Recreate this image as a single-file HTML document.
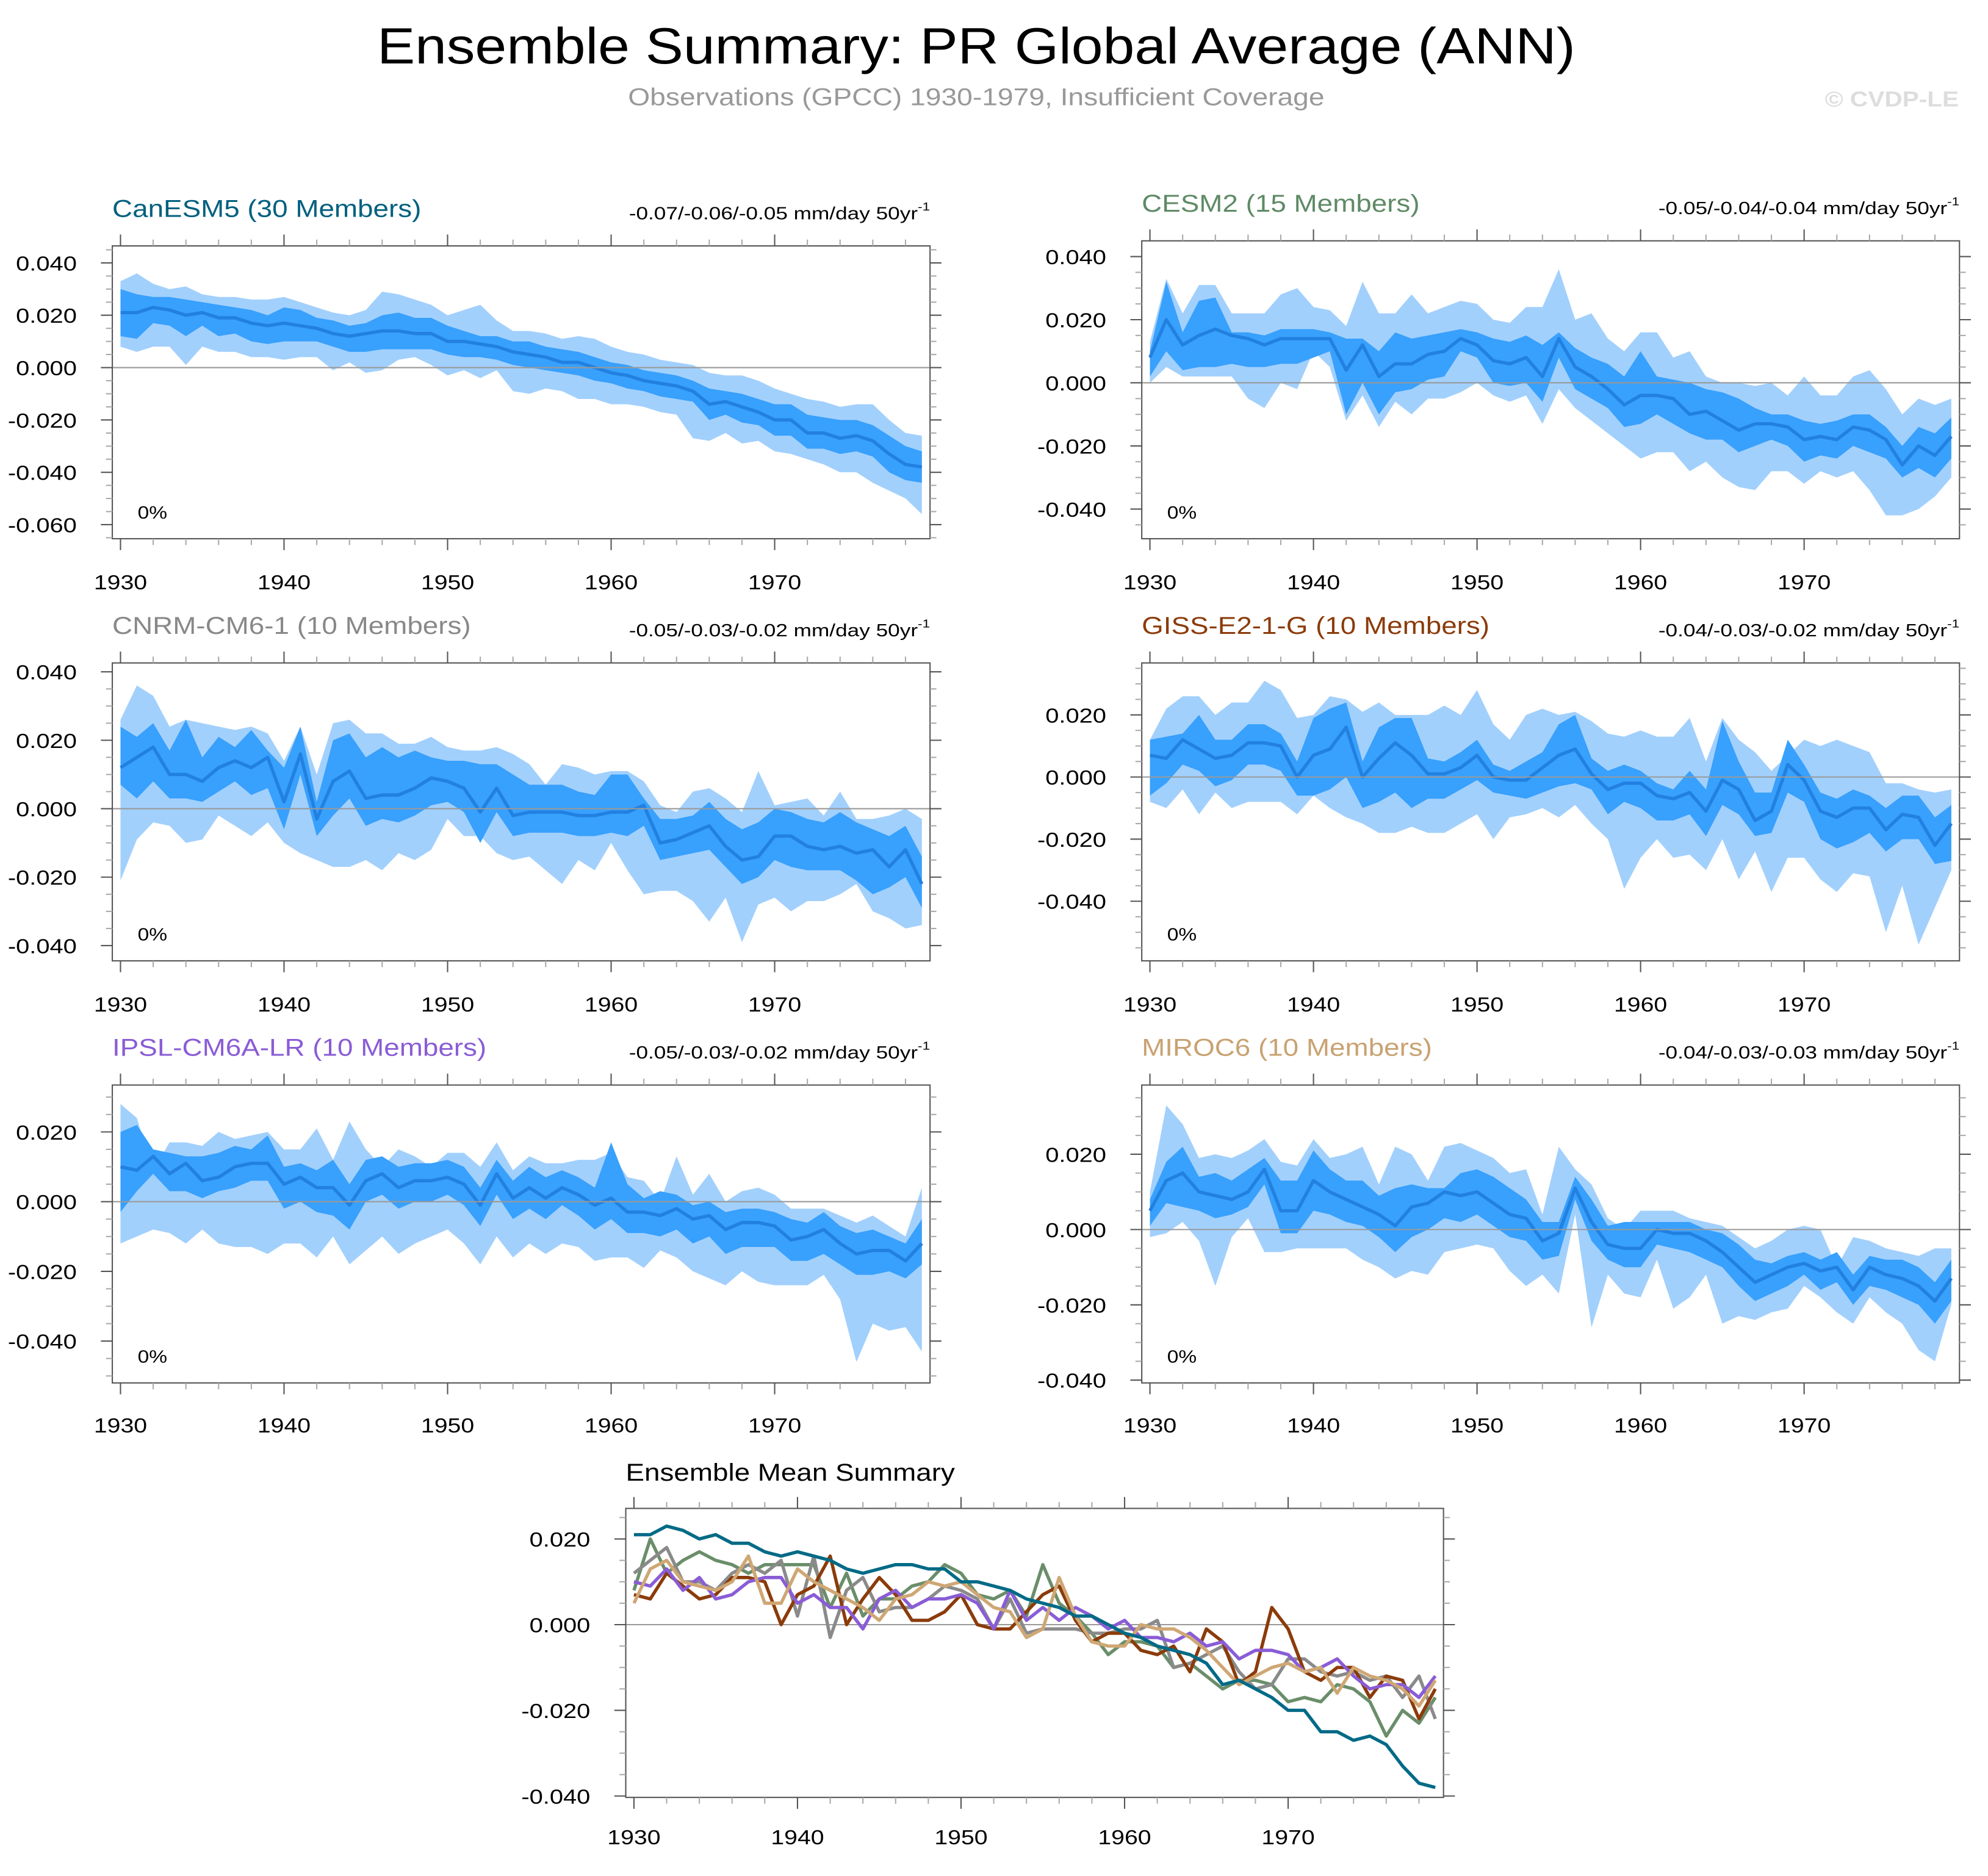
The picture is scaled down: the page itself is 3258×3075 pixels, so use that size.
<!DOCTYPE html>
<html><head><meta charset="utf-8">
<style>
html,body{margin:0;padding:0;background:#fff;}
svg{display:block;font-family:"Liberation Sans",sans-serif;}
</style></head>
<body>
<svg id="chart" width="3258" height="3075" viewBox="0 0 1568 1480" xmlns="http://www.w3.org/2000/svg">
<rect width="1568" height="1480" fill="#fff"/>
<text data-sx="1.12" x="770" y="50" font-size="40" text-anchor="middle" fill="#000">Ensemble Summary: PR Global Average (ANN)</text>
<text data-sx="1.17" x="770" y="83" font-size="19" text-anchor="middle" fill="#999">Observations (GPCC) 1930-1979, Insufficient Coverage</text>
<text data-sx="1.15" x="1545" y="84" font-size="17" font-weight="bold" text-anchor="end" fill="#ddd">© CVDP-LE</text>
</svg>
<script>
// values in thousandths (x0.001 mm/day)
const years=[];for(let y=1930;y<=1979;y++)years.push(y);
const xTickLabels=["1930","1940","1950","1960","1970"];

const canMean=[21,21,23,22,20,21,19,19,17,16,17,16,15,13,12,13,14,14,13,13,10,10,9,8,6,5,4,2,2,0,-2,-3,-5,-6,-7,-9,-14,-13,-15,-17,-20,-20,-25,-25,-27,-26,-28,-33,-37,-38];
const canP90=[30,28,27,27,26,25,24,23,22,20,23,22,19,18,16,17,20,21,19,19,16,14,12,12,10,10,8,7,6,4,2,1,-1,-2,-3,-5,-8,-9,-10,-12,-14,-14,-18,-19,-20,-20,-22,-26,-30,-32];
const canP10=[12,11,17,16,12,16,12,13,10,9,10,10,10,8,6,6,7,7,7,7,5,4,4,3,1,0,-1,-2,-3,-5,-6,-8,-9,-11,-12,-13,-20,-18,-21,-22,-26,-26,-31,-31,-33,-32,-34,-40,-43,-44];
const canMax=[33,36,32,30,31,28,27,27,26,26,27,25,23,21,20,22,29,28,26,24,20,22,24,18,14,14,13,11,12,11,8,6,5,3,2,1,-2,-3,-3,-5,-8,-10,-12,-13,-15,-14,-14,-20,-25,-26];
const canMin=[8,6,8,8,1,8,6,6,4,4,3,4,4,-1,2,-2,-1,3,4,1,-3,-1,-4,-1,-9,-10,-8,-9,-12,-12,-14,-14,-15,-17,-18,-27,-28,-25,-29,-28,-32,-33,-35,-37,-40,-40,-44,-47,-50,-56];

const cesMean=[8,20,12,15,17,15,14,12,14,14,14,14,4,12,2,6,6,9,10,14,12,7,6,8,2,14,5,2,-2,-7,-4,-4,-5,-10,-9,-12,-15,-13,-13,-14,-18,-17,-18,-14,-15,-18,-26,-20,-23,-17];
const cesP90=[10,32,16,26,27,16,16,15,17,17,17,16,14,14,10,16,14,15,16,17,16,14,13,15,12,16,11,8,6,2,10,2,1,0,-2,-3,-5,-8,-10,-10,-12,-13,-12,-10,-10,-14,-20,-14,-16,-11];
const cesP10=[2,10,4,5,5,6,5,5,6,6,8,10,-10,0,-10,-3,-2,1,2,10,8,0,-1,0,-6,8,-2,-5,-8,-14,-13,-10,-13,-16,-18,-18,-22,-20,-18,-20,-25,-23,-24,-20,-22,-24,-30,-27,-30,-24];
const cesMax=[13,33,22,31,31,22,22,22,28,30,24,23,18,32,22,22,28,22,24,26,25,20,19,24,24,36,20,22,14,10,16,16,8,10,2,0,0,-1,0,-4,2,-4,-4,2,4,-2,-10,-5,-7,-5];
const cesMin=[0,5,2,2,2,2,-5,-8,0,-2,10,5,-12,-4,-14,-6,-10,-5,-5,-3,0,-4,-6,-4,-13,-2,-8,-12,-16,-20,-24,-22,-22,-28,-25,-30,-33,-34,-28,-28,-32,-28,-30,-28,-34,-42,-42,-40,-36,-30];

const cnrMean=[12,15,18,10,10,8,12,14,12,15,2,16,-3,8,11,3,4,4,6,9,8,6,-1,6,-2,-1,-1,-1,-2,-2,-1,-1,1,-10,-9,-7,-5,-11,-15,-14,-8,-8,-11,-12,-11,-13,-12,-17,-12,-22];
const cnrP90=[24,21,25,17,26,15,21,18,23,17,12,24,2,20,22,15,18,15,17,15,14,14,13,13,10,7,7,7,5,4,10,10,3,-3,-3,-2,2,-3,-6,-4,0,-1,-3,-4,-1,-4,-6,-8,-5,-14];
const cnrP10=[7,3,8,3,3,2,5,8,4,6,-6,10,-8,-2,3,-5,-3,-4,-2,1,2,-1,-10,-1,-8,-7,-7,-7,-8,-8,-7,-8,-5,-15,-14,-13,-12,-17,-22,-20,-15,-17,-18,-18,-18,-21,-25,-23,-20,-29];
const cnrMax=[26,36,33,24,26,25,24,23,24,22,14,24,10,25,26,22,22,19,19,21,18,17,17,18,16,13,7,13,12,10,11,11,8,1,-1,5,6,3,-1,11,1,2,3,-2,5,-3,-3,-2,0,-3];
const cnrMin=[-21,-9,-4,-5,-10,-9,-2,-5,-8,-4,-10,-13,-15,-17,-17,-15,-18,-13,-15,-12,-3,-8,-8,-13,-15,-14,-18,-22,-15,-18,-10,-18,-25,-24,-24,-27,-33,-26,-39,-28,-26,-30,-27,-27,-25,-22,-30,-32,-35,-34];

const gisMean=[7,6,12,9,6,7,11,11,10,0,7,9,16,0,6,11,7,1,1,3,7,0,-1,-1,3,7,9,1,-4,-2,-2,-6,-7,-5,-11,-1,-4,-14,-11,4,-1,-11,-13,-10,-10,-17,-12,-13,-22,-15];
const gisP90=[12,13,14,20,12,12,17,17,14,5,19,22,24,5,16,19,19,6,5,8,12,4,2,5,8,17,20,6,2,4,2,-2,-4,2,-4,18,5,-5,-5,12,4,-5,-7,-4,-6,-10,-6,-6,-13,-9];
const gisP10=[-6,-2,4,2,-3,-1,4,4,2,-6,-6,-4,0,-10,-8,-5,-10,-7,-7,-4,-1,-5,-6,-7,-5,-3,-2,-4,-12,-8,-10,-14,-14,-12,-19,-9,-12,-19,-18,-5,-8,-20,-23,-21,-18,-24,-20,-20,-28,-27];
const gisMax=[12,22,26,26,20,24,24,31,28,19,20,26,25,21,24,20,20,20,23,20,28,17,12,20,22,20,21,18,14,13,15,13,13,19,5,19,12,8,2,7,12,10,12,10,8,-2,-2,-4,-5,-4];
const gisMin=[-8,-10,-4,-12,-5,-10,-8,-8,-8,-12,-6,-10,-13,-15,-18,-18,-16,-18,-18,-15,-12,-20,-13,-12,-10,-13,-9,-15,-20,-36,-26,-20,-26,-25,-30,-20,-33,-24,-37,-26,-26,-33,-37,-31,-32,-50,-35,-54,-42,-30];

const ipsMean=[10,9,13,8,11,6,7,10,11,11,5,7,4,4,-1,6,8,4,6,6,7,5,-1,8,1,4,1,4,2,-1,1,-3,-3,-4,-2,-5,-4,-8,-6,-6,-7,-11,-10,-8,-12,-15,-14,-14,-17,-12];
const ipsP90=[20,22,15,14,13,13,14,16,15,19,10,11,9,12,5,12,13,10,11,11,12,10,4,12,6,10,7,9,7,4,17,5,1,3,2,-1,0,-3,-2,-2,-3,-5,-6,-3,-7,-9,-8,-10,-12,-5];
const ipsP10=[-3,3,8,3,3,1,3,4,6,6,-2,0,-3,-4,-8,0,2,-2,0,0,2,-1,-7,2,-5,-2,-5,-1,-4,-8,-5,-9,-9,-10,-8,-12,-10,-15,-13,-13,-13,-17,-17,-15,-18,-21,-21,-20,-22,-18];
const ipsMax=[28,24,9,17,17,16,20,18,19,20,15,15,21,12,23,15,10,15,13,10,14,14,10,17,9,13,11,11,12,12,14,7,6,0,13,2,8,0,3,4,2,-2,-2,-2,-4,-6,-4,-7,-10,4];
const ipsMin=[-12,-10,-8,-9,-12,-8,-12,-13,-13,-15,-12,-12,-16,-10,-18,-14,-10,-15,-12,-10,-8,-12,-18,-10,-16,-12,-15,-12,-13,-17,-16,-16,-19,-14,-16,-20,-22,-24,-20,-23,-24,-24,-24,-21,-28,-46,-35,-37,-36,-43];

const mirMean=[5,13,15,10,9,8,10,16,5,5,13,10,8,6,4,1,6,7,10,9,10,7,4,3,-3,-1,11,2,-4,-5,-5,0,-1,-1,-3,-6,-10,-14,-12,-10,-9,-11,-10,-16,-10,-12,-13,-15,-19,-13];
const mirP90=[8,18,22,14,15,13,16,19,13,13,21,16,13,13,9,11,12,11,11,15,16,14,11,8,2,2,14,8,1,2,2,2,2,2,0,-1,-4,-8,-9,-7,-6,-8,-6,-12,-7,-8,-8,-10,-14,-8];
const mirP10=[1,7,6,5,3,4,6,12,-1,-1,5,4,2,1,-2,-6,-2,0,3,2,4,1,-2,-3,-8,-7,8,-3,-8,-10,-10,-4,-5,-6,-8,-10,-15,-19,-17,-15,-12,-16,-14,-20,-15,-16,-18,-20,-25,-19];
const mirMax=[10,33,28,19,20,19,21,24,18,17,24,19,20,22,12,22,20,13,22,23,21,19,15,16,4,22,16,12,3,0,5,5,5,3,2,1,-2,-5,-3,0,1,0,-10,-2,-3,-5,-6,-7,-5,-5];
const mirMin=[-2,-1,2,-3,-15,-2,3,-6,-6,-5,-5,-5,-5,-8,-10,-13,-11,-12,-6,-5,-4,-5,-11,-15,-12,-17,4,-26,-12,-17,-18,-8,-21,-18,-12,-25,-23,-24,-22,-21,-15,-18,-22,-25,-18,-22,-25,-32,-35,-20];

const modelNames=["CanESM5 (30 Members)","CESM2 (15 Members)","CNRM-CM6-1 (10 Members)","GISS-E2-1-G (10 Members)","IPSL-CM6A-LR (10 Members)","MIROC6 (10 Members)"];
const trendLabels=["-0.07/-0.06/-0.05 mm/day 50yr","-0.05/-0.04/-0.04 mm/day 50yr","-0.05/-0.03/-0.02 mm/day 50yr","-0.04/-0.03/-0.02 mm/day 50yr","-0.05/-0.03/-0.02 mm/day 50yr","-0.04/-0.03/-0.03 mm/day 50yr"];
const yTicksA=[40,20,0,-20,-40,-60];
const yTicksB=[40,20,0,-20,-40];
const yTicksC=[20,0,-20,-40];

const NS="http://www.w3.org/2000/svg";
const svg=document.getElementById('chart');
function mk(tag,attrs,parent){const e=document.createElementNS(NS,tag);for(const k in attrs)e.setAttribute(k,attrs[k]);(parent||svg).appendChild(e);return e;}

const panels=[
 {x0:95,zero:290,k:20.65,top:194,bot:425,ticks:yTicksA,color:"#00607f",d:[canMean,canP10,canP90,canMin,canMax]},
 {x0:907,zero:302,k:24.9,top:190,bot:425,ticks:yTicksB,color:"#5f8a66",d:[cesMean,cesP10,cesP90,cesMin,cesMax]},
 {x0:95,zero:638,k:27,top:523,bot:758,ticks:yTicksB,color:"#888888",d:[cnrMean,cnrP10,cnrP90,cnrMin,cnrMax]},
 {x0:907,zero:613,k:24.5,top:523,bot:758,ticks:yTicksC,color:"#8b3b0a",d:[gisMean,gisP10,gisP90,gisMin,gisMax]},
 {x0:95,zero:948,k:27.5,top:856,bot:1091,ticks:yTicksC,color:"#8a5cd6",d:[ipsMean,ipsP10,ipsP90,ipsMin,ipsMax]},
 {x0:907,zero:970,k:29.7,top:856,bot:1091,ticks:yTicksC,color:"#c9a272",d:[mirMean,mirP10,mirP90,mirMin,mirMax]}
];
const DX=12.9;

function axes(g,p,labelY){
  const xs=y=>p.x0+(y-1930)*DX, ys=v=>p.zero-v*p.k/10;
  const L=xs(1929.5),R=xs(1979.5);
  const zl=mk('line',{x1:L,x2:R,y1:ys(0),y2:ys(0),stroke:"#999","stroke-width":1},g);
  
  
  const bx=mk('rect',{x:L,y:p.top,width:R-L,height:p.bot-p.top,fill:"none",stroke:"#555","stroke-width":1},g);
  
  
  for(let y=1930;y<=1978;y+=2){
    const maj=(y%10===0), len=maj?9:5, x=xs(y);
    mk('line',{x1:x,x2:x,y1:p.bot,y2:p.bot+len,stroke:maj?"#555":"#aaa","stroke-width":1},g);
    mk('line',{x1:x,x2:x,y1:p.top,y2:p.top-len,stroke:maj?"#555":"#aaa","stroke-width":1},g);
  }
  xTickLabels.forEach(t=>{
    const tx=mk('text',{x:xs(+t),y:labelY,"font-size":16,"text-anchor":"middle",fill:"#000","data-sx":"1.18"},g);
    
    
    tx.textContent=t;
  });
  const vTop=(p.zero-p.top)/p.k*10, vBot=(p.zero-p.bot)/p.k*10;
  for(let v=Math.floor(vTop/5)*5; v>=vBot; v-=5){
    const yy=ys(v); if(yy<p.top-0.5||yy>p.bot+0.5) continue;
    const maj=(v%20===0)&&p.ticks.indexOf(v)>=0, len=maj?9:5;
    mk('line',{x1:L,x2:L-len,y1:yy,y2:yy,stroke:maj?"#555":"#aaa","stroke-width":1},g);
    mk('line',{x1:R,x2:R+len,y1:yy,y2:yy,stroke:maj?"#555":"#aaa","stroke-width":1},g);
  }
  p.ticks.forEach(v=>{
    const tx=mk('text',{x:L-28,y:ys(v)+6,"font-size":16,"text-anchor":"end",fill:"#000","data-sx":"1.2"},g);
    
    
    tx.textContent=(v/1000).toFixed(3);
  });
  return {xs,ys,L,R};
}

function band(g,xs,ys,lo,hi,fill,name){
  let d="";
  years.forEach((y,i)=>{d+=(i?"L":"M")+xs(y).toFixed(2)+","+ys(hi[i]).toFixed(2);});
  for(let i=years.length-1;i>=0;i--) d+="L"+xs(years[i]).toFixed(2)+","+ys(lo[i]).toFixed(2);
  const pa=mk('path',{d:d+"Z",fill:fill,stroke:"none"},g);
  
  
}
function line(g,xs,ys,vals,color,w,name){
  const d=years.map((y,i)=>(i?"L":"M")+xs(y).toFixed(2)+","+ys(vals[i]).toFixed(2)).join("");
  const pa=mk('path',{d:d,fill:"none",stroke:color,"stroke-width":w,"stroke-linejoin":"round"},g);
  
  
}

const labelYs=[465,465,798,798,1130,1130];
panels.forEach((p,i)=>{
  const g=mk('g',{});
  
  
  const xs=y=>p.x0+(y-1930)*DX, ys=v=>p.zero-v*p.k/10;
  band(g,xs,ys,p.d[3],p.d[4],"#a2d0fd",'min-max-band');
  band(g,xs,ys,p.d[1],p.d[2],"#38a0fd",'p10-p90-band');
  line(g,xs,ys,p.d[0],"#2180e0",2.6,'ensemble-mean-line');
  const a=axes(g,p,labelYs[i]);
  const t=mk('text',{x:a.L,y:p.top-23,"font-size":19,fill:p.color,"data-sx":"1.16"},g);
  
  
  t.textContent=modelNames[i];
  const tr=mk('text',{x:a.R,y:p.top-21,"font-size":14,"text-anchor":"end",fill:"#000","data-sx":"1.21"},g);
  
  
  tr.textContent=trendLabels[i];
  const sup=mk('tspan',{"font-size":9,dy:-7},tr);
  sup.textContent="-1";
  const pc=mk('text',{x:a.L+20,y:p.bot-16,"font-size":14,fill:"#000","data-sx":"1.15"},g);
  
  
  pc.textContent="0%";
});

const sp={x0:500,zero:1281.7,k:33.8,top:1190,bot:1418,ticks:[20,0,-20,-40]};
const gs=mk('g',{});


const sx=y=>sp.x0+(y-1930)*DX, sy=v=>sp.zero-v*sp.k/10;
const sa=axes(gs,sp,1455);
const st=mk('text',{x:sa.L,y:1168,"font-size":19,fill:"#000","data-sx":"1.16"},gs);


st.textContent="Ensemble Mean Summary";
[[cesMean,"#6a8e6a"],[cnrMean,"#8a8a8a"],[gisMean,"#8b3b0a"],[ipsMean,"#8a5cd6"],[mirMean,"#cfa774"],[canMean,"#006a86"]].forEach(s=>{
  line(gs,sx,sy,s[0],s[1],2.6,'summary-mean-line');
});

// widen text to match reference glyph widths
document.querySelectorAll('text[data-sx]').forEach(t=>{
  const f=parseFloat(t.getAttribute('data-sx'));
  const w=t.getComputedTextLength();
  if(w>0){t.setAttribute('textLength',(w*f).toFixed(1));t.setAttribute('lengthAdjust','spacingAndGlyphs');}
});
</script>
</body></html>
